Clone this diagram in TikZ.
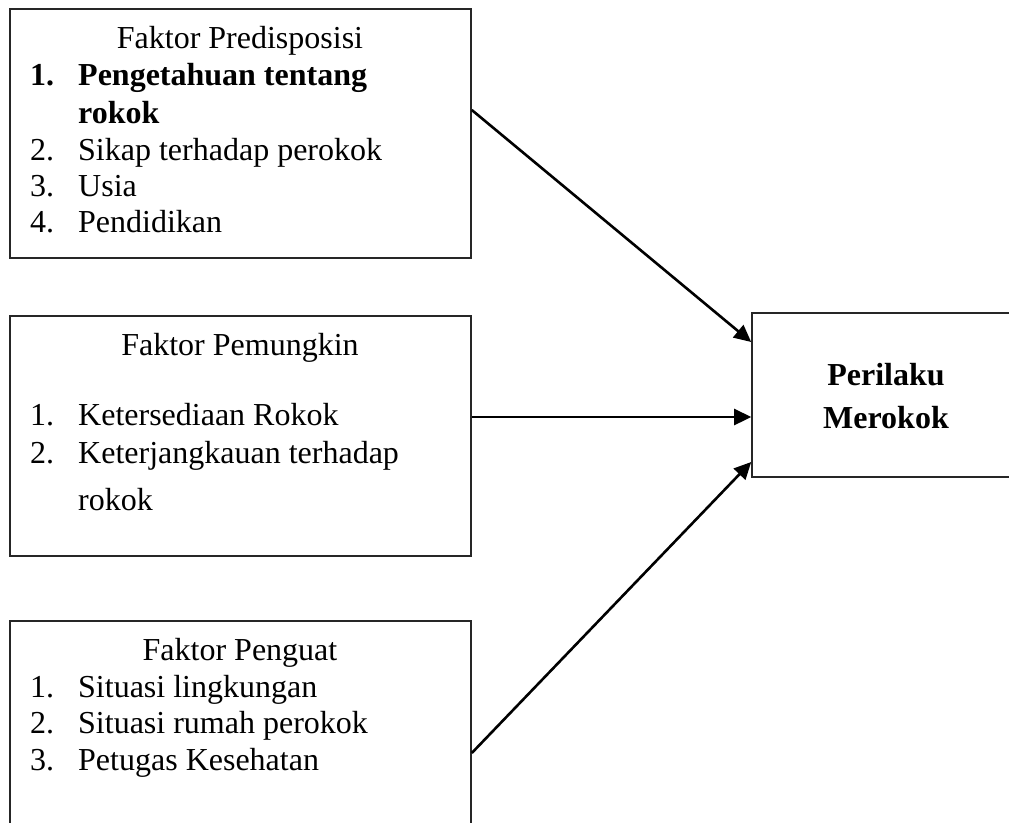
\documentclass[tikz,border=0pt]{standalone}
\usepackage{fontspec}
\setmainfont{Liberation Serif}
\usetikzlibrary{arrows.meta}
\begin{document}
\begin{tikzpicture}[x=1pt,y=-1pt,
  box/.style={draw=black!85,line width=1.6pt,rectangle,inner sep=0pt},
  txt/.style={inner sep=0pt,font=\fontsize{32}{38}\selectfont},
  num/.style={txt,anchor=base west},
  item/.style={txt,anchor=base west},
  ttl/.style={txt,anchor=base},
  link/.style={line width=2.6pt,-{Triangle[length=17pt,width=16pt]}}]
\useasboundingbox (0,0) rectangle (1009,822);
\clip (0,0) rectangle (1009,822);
\fill[white] (0,0) rectangle (1009,822);
% boxes
\node[box,minimum width=461pt,minimum height=249pt] (b1) at (240.5,133.5) {};
\node[box,minimum width=461pt,minimum height=240pt] (b2) at (240.5,436) {};
\node[box,minimum width=461pt,minimum height=209pt] (b3) at (240.5,725.5) {};
\node[box,minimum width=268pt,minimum height=164pt] (b4) at (886,395) {};
% box 1
\node[ttl] (t1) at (240,48) {Faktor Predisposisi};
\node[num] (n11) at (30,85) {\bfseries 1.};
\node[item] (i11) at (78,85) {\bfseries Pengetahuan tentang};
\node[item] (i11b) at (78,123) {\bfseries rokok};
\node[num] (n12) at (30,160) {2.};
\node[item] (i12) at (78,160) {Sikap terhadap perokok};
\node[num] (n13) at (30,196) {3.};
\node[item] (i13) at (78,196) {Usia};
\node[num] (n14) at (30,232) {4.};
\node[item] (i14) at (78,232) {Pendidikan};
% box 2
\node[ttl] (t2) at (240,355) {Faktor Pemungkin};
\node[num] (n21) at (30,425) {1.};
\node[item] (i21) at (78,425) {Ketersediaan Rokok};
\node[num] (n22) at (30,463) {2.};
\node[item] (i22) at (78,463) {Keterjangkauan terhadap};
\node[item] (i22b) at (78,510) {rokok};
% box 3
\node[ttl] (t3) at (240,660) {Faktor Penguat};
\node[num] (n31) at (30,697) {1.};
\node[item] (i31) at (78,697) {Situasi lingkungan};
\node[num] (n32) at (30,733) {2.};
\node[item] (i32) at (78,733) {Situasi rumah perokok};
\node[num] (n33) at (30,770) {3.};
\node[item] (i33) at (78,770) {Petugas Kesehatan};
% box 4
\node[ttl] (t41) at (886,385) {\bfseries Perilaku};
\node[ttl] (t42) at (886,428) {\bfseries Merokok};
% arrows
\draw[link] ([yshift=23.5pt]b1.east) -- ([yshift=53pt]b4.west);
\draw[link] ([yshift=19pt]b2.east) -- ([yshift=-22pt]b4.west);
\draw[link] ([yshift=-27.5pt]b3.east) -- ([yshift=-67pt]b4.west);
\end{tikzpicture}
\end{document}
